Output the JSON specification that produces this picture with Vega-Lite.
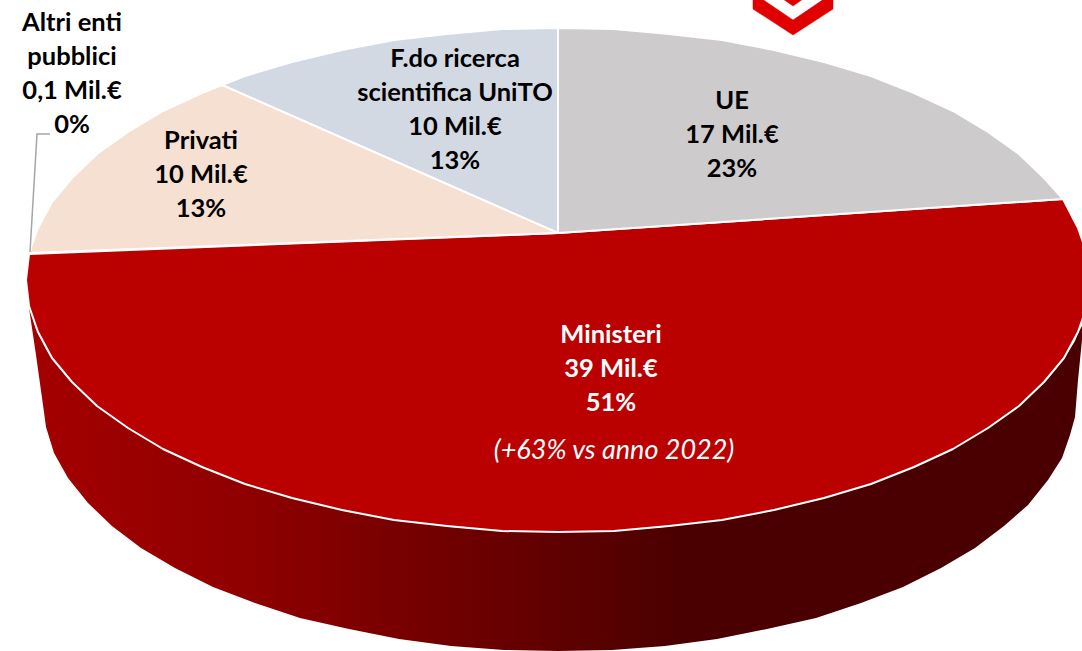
{"$schema":"https://vega.github.io/schema/vega-lite/v6.json","width":1082,"height":651,"padding":0,"autosize":{"type":"fit","contains":"padding"},"background":"white","config":{"view":{"stroke":null}},
"datasets":{
"wall":[{"dx":-529,"top":-27,"bottom":-28},{"dx":-522,"top":-49,"bottom":-75},{"dx":-515,"top":-63,"bottom":-125},{"dx":-512,"top":-69,"bottom":-147},{"dx":-504,"top":-81,"bottom":-173},{"dx":-490,"top":-98,"bottom":-198},{"dx":-470,"top":-118,"bottom":-223},{"dx":-446,"top":-137,"bottom":-246},{"dx":-417,"top":-156,"bottom":-268},{"dx":-383,"top":-175,"bottom":-288},{"dx":-345,"top":-192,"bottom":-307},{"dx":-303,"top":-207,"bottom":-323},{"dx":-258,"top":-220,"bottom":-338},{"dx":-209,"top":-232,"bottom":-349},{"dx":-159,"top":-240,"bottom":-359},{"dx":-107,"top":-247,"bottom":-366},{"dx":-54,"top":-251,"bottom":-370},{"dx":0,"top":-252,"bottom":-371},{"dx":54,"top":-251,"bottom":-370},{"dx":107,"top":-247,"bottom":-366},{"dx":159,"top":-240,"bottom":-359},{"dx":209,"top":-232,"bottom":-349},{"dx":258,"top":-220,"bottom":-338},{"dx":303,"top":-207,"bottom":-323},{"dx":345,"top":-192,"bottom":-307},{"dx":383,"top":-175,"bottom":-288},{"dx":417,"top":-156,"bottom":-268},{"dx":446,"top":-137,"bottom":-246},{"dx":470,"top":-118,"bottom":-225},{"dx":490,"top":-98,"bottom":-200},{"dx":504,"top":-81,"bottom":-178},{"dx":512,"top":-69,"bottom":-155},{"dx":517,"top":-61,"bottom":-137},{"dx":520,"top":-53,"bottom":-100},{"dx":524,"top":-46,"bottom":-60}],
"faces":[
{"slice":"Ministeri","o":0,"dx":0,"dy":47},{"slice":"Ministeri","o":1,"dx":505,"dy":81},{"slice":"Ministeri","o":2,"dx":520,"dy":52},{"slice":"Ministeri","o":3,"dx":529,"dy":26},{"slice":"Ministeri","o":4,"dx":532,"dy":0},{"slice":"Ministeri","o":5,"dx":529,"dy":-26},{"slice":"Ministeri","o":6,"dx":520,"dy":-52},{"slice":"Ministeri","o":7,"dx":506,"dy":-78},{"slice":"Ministeri","o":8,"dx":486,"dy":-102},{"slice":"Ministeri","o":9,"dx":461,"dy":-126},{"slice":"Ministeri","o":10,"dx":430,"dy":-148},{"slice":"Ministeri","o":11,"dx":395,"dy":-169},{"slice":"Ministeri","o":12,"dx":356,"dy":-187},{"slice":"Ministeri","o":13,"dx":313,"dy":-204},{"slice":"Ministeri","o":14,"dx":266,"dy":-218},{"slice":"Ministeri","o":15,"dx":216,"dy":-230},{"slice":"Ministeri","o":16,"dx":164,"dy":-240},{"slice":"Ministeri","o":17,"dx":111,"dy":-246},{"slice":"Ministeri","o":18,"dx":56,"dy":-251},{"slice":"Ministeri","o":19,"dx":0,"dy":-252},{"slice":"Ministeri","o":20,"dx":-56,"dy":-251},{"slice":"Ministeri","o":21,"dx":-111,"dy":-246},{"slice":"Ministeri","o":22,"dx":-164,"dy":-240},{"slice":"Ministeri","o":23,"dx":-216,"dy":-230},{"slice":"Ministeri","o":24,"dx":-266,"dy":-218},{"slice":"Ministeri","o":25,"dx":-313,"dy":-204},{"slice":"Ministeri","o":26,"dx":-356,"dy":-187},{"slice":"Ministeri","o":27,"dx":-395,"dy":-169},{"slice":"Ministeri","o":28,"dx":-430,"dy":-148},{"slice":"Ministeri","o":29,"dx":-461,"dy":-126},{"slice":"Ministeri","o":30,"dx":-486,"dy":-102},{"slice":"Ministeri","o":31,"dx":-506,"dy":-78},{"slice":"Ministeri","o":32,"dx":-520,"dy":-52},{"slice":"Ministeri","o":33,"dx":-529,"dy":-26},{"slice":"Ministeri","o":34,"dx":-532,"dy":0},{"slice":"Ministeri","o":35,"dx":-529,"dy":26},{"slice":"Ministeri","o":36,"dx":0,"dy":47},
{"slice":"UE","o":0,"dx":0,"dy":47},{"slice":"UE","o":1,"dx":0,"dy":252},{"slice":"UE","o":2,"dx":56,"dy":251},{"slice":"UE","o":3,"dx":111,"dy":246},{"slice":"UE","o":4,"dx":164,"dy":240},{"slice":"UE","o":5,"dx":216,"dy":230},{"slice":"UE","o":6,"dx":266,"dy":218},{"slice":"UE","o":7,"dx":313,"dy":204},{"slice":"UE","o":8,"dx":356,"dy":187},{"slice":"UE","o":9,"dx":395,"dy":169},{"slice":"UE","o":10,"dx":430,"dy":148},{"slice":"UE","o":11,"dx":461,"dy":126},{"slice":"UE","o":12,"dx":486,"dy":102},{"slice":"UE","o":13,"dx":505,"dy":81},{"slice":"UE","o":14,"dx":0,"dy":47},
{"slice":"Fdo","o":0,"dx":0,"dy":47},{"slice":"Fdo","o":1,"dx":0,"dy":252},{"slice":"Fdo","o":2,"dx":-56,"dy":251},{"slice":"Fdo","o":3,"dx":-111,"dy":246},{"slice":"Fdo","o":4,"dx":-164,"dy":240},{"slice":"Fdo","o":5,"dx":-216,"dy":230},{"slice":"Fdo","o":6,"dx":-266,"dy":218},{"slice":"Fdo","o":7,"dx":-313,"dy":204},{"slice":"Fdo","o":8,"dx":-336,"dy":195},{"slice":"Fdo","o":9,"dx":0,"dy":47},
{"slice":"Privati","o":0,"dx":0,"dy":47},{"slice":"Privati","o":1,"dx":-336,"dy":195},{"slice":"Privati","o":2,"dx":-356,"dy":187},{"slice":"Privati","o":3,"dx":-395,"dy":169},{"slice":"Privati","o":4,"dx":-430,"dy":148},{"slice":"Privati","o":5,"dx":-461,"dy":126},{"slice":"Privati","o":6,"dx":-486,"dy":102},{"slice":"Privati","o":7,"dx":-506,"dy":78},{"slice":"Privati","o":8,"dx":-520,"dy":52},{"slice":"Privati","o":9,"dx":-529,"dy":27},{"slice":"Privati","o":10,"dx":0,"dy":47}
],
"leader":[{"o":0,"dx":-528,"dy":28},{"o":1,"dx":-521,"dy":146},{"o":2,"dx":-508,"dy":146}],
"logo":[{"part":"outer","o":0,"dx":195,"dy":281},{"part":"outer","o":1,"dx":195,"dy":271},{"part":"outer","o":2,"dx":235,"dy":245},{"part":"outer","o":3,"dx":275,"dy":271},{"part":"outer","o":4,"dx":275,"dy":281},{"part":"outer","o":5,"dx":266,"dy":281},{"part":"outer","o":6,"dx":235,"dy":260},{"part":"outer","o":7,"dx":204,"dy":281},{"part":"inner","o":0,"dx":225,"dy":281},{"part":"inner","o":1,"dx":235,"dy":274},{"part":"inner","o":2,"dx":245,"dy":281}],
"labels":[
{"slice":"Altri enti pubblici","value":0.1,"share":0,"label":"Altri enti\npubblici\n0,1 Mil.€\n0%","dx":-486,"dy":257,"tone":"dark"},
{"slice":"Privati","value":10,"share":13,"label":"Privati\n10 Mil.€\n13%","dx":-357,"dy":139,"tone":"dark"},
{"slice":"F.do ricerca scientifica UniTO","value":10,"share":13,"label":"F.do ricerca\nscientifica UniTO\n10 Mil.€\n13%","dx":-103,"dy":221,"tone":"dark"},
{"slice":"UE","value":17,"share":23,"label":"UE\n17 Mil.€\n23%","dx":174,"dy":179,"tone":"dark"},
{"slice":"Ministeri","value":39,"share":51,"label":"Ministeri\n39 Mil.€\n51%","dx":53,"dy":-55,"tone":"light"}],
"note":[{"label":"(+63% vs anno 2022)","dx":56,"dy":-171}]
},
"encoding":{"x":{"field":"dx","type":"quantitative","scale":{"domain":[-558,524],"nice":false,"zero":false},"axis":null},"y":{"field":"dy","type":"quantitative","scale":{"domain":[-371,280],"nice":false,"zero":false},"axis":null}},
"layer":[
{"data":{"name":"wall"},"mark":{"type":"area","clip":true,"color":{"gradient":"linear","x1":0,"x2":1,"y1":0,"y2":0,"stops":[{"offset":0,"color":"#a40000"},{"offset":0.2,"color":"#900000"},{"offset":0.35,"color":"#780000"},{"offset":0.5,"color":"#600000"},{"offset":0.62,"color":"#4a0000"},{"offset":1,"color":"#4a0000"}]}},"encoding":{"y":{"field":"top","type":"quantitative"},"y2":{"field":"bottom"}}},
{"data":{"name":"faces"},"mark":{"type":"line","clip":true,"stroke":"white","strokeWidth":2,"strokeJoin":"round"},"encoding":{"order":{"field":"o","type":"quantitative"},"detail":{"field":"slice"},"fill":{"field":"slice","type":"nominal","legend":null,"scale":{"domain":["Ministeri","UE","Fdo","Privati"],"range":["#bb0000","#cdcbcb","#d2d9e2","#f6e0d2"]}}}},
{"data":{"name":"leader"},"mark":{"type":"line","color":"#a6a6a6","strokeWidth":1.5},"encoding":{"order":{"field":"o","type":"quantitative"}}},
{"data":{"name":"logo"},"mark":{"type":"line","clip":true,"fill":"#e10000","stroke":"#e10000","strokeWidth":0.5},"encoding":{"order":{"field":"o","type":"quantitative"},"detail":{"field":"part"}}},
{"data":{"name":"labels"},"mark":{"type":"text","font":"Lato","fontSize":25.5,"fontWeight":"bold","lineBreak":"\n","lineHeight":34,"align":"center","baseline":"middle"},"encoding":{"text":{"field":"label"},"color":{"field":"tone","type":"nominal","legend":null,"scale":{"domain":["dark","light"],"range":["#000000","#ffffff"]}}}},
{"data":{"name":"note"},"mark":{"type":"text","font":"Lato","fontSize":27,"fontStyle":"italic","color":"white","align":"center","baseline":"middle"},"encoding":{"text":{"field":"label"}}}
]}
